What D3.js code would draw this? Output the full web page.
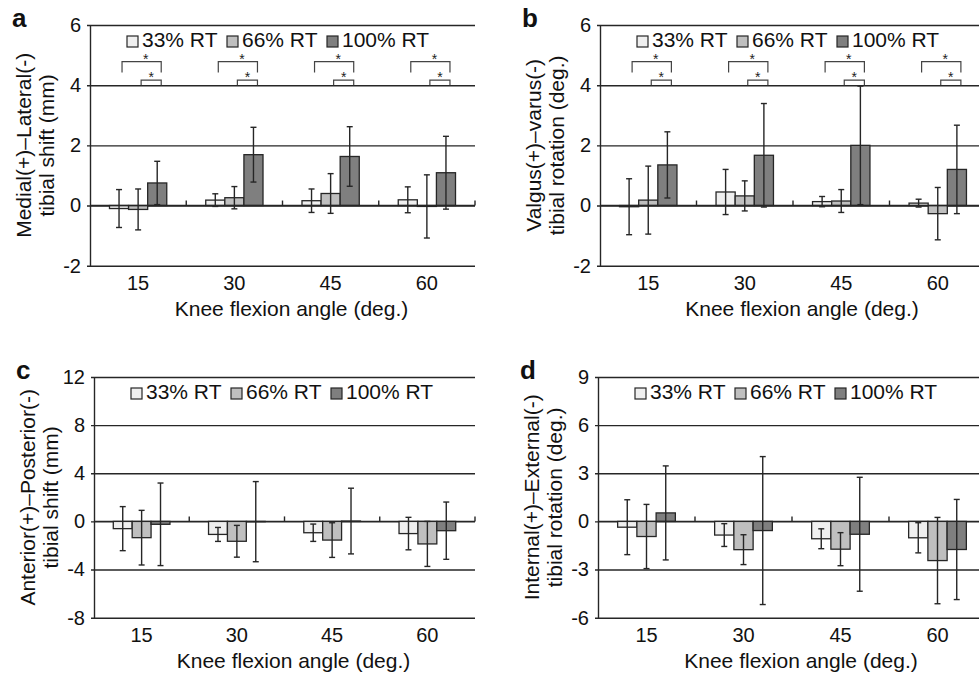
<!DOCTYPE html>
<html>
<head>
<meta charset="utf-8">
<script src="https://cdn.jsdelivr.net/npm/d3@7"></script>
<style>
  body { margin: 0; background: #fff; }
  svg { display: block; font-family: 'Liberation Sans', Arial, sans-serif; }
</style>
</head>
<body>
<div id="chart"></div>
<script>
// knee flexion angles and loading conditions
const angles = ['15', '30', '45', '60'];
const loads = ['33% RT', '66% RT', '100% RT'];

// a: medial(+)/lateral(-) tibial shift, mm  (rows = loads, cols = angles)
const mlMean = [[-0.1, 0.18, 0.16, 0.19], [-0.13, 0.26, 0.4, -0.03], [0.75, 1.69, 1.63, 1.09]];
const mlSd = [[0.63, 0.21, 0.39, 0.43], [0.68, 0.37, 0.66, 1.05], [0.72, 0.91, 0.99, 1.21]];

// b: valgus(+)/varus(-) tibial rotation, deg.
const vvMean = [[-0.04, 0.45, 0.13, 0.08], [0.18, 0.32, 0.15, -0.27], [1.35, 1.67, 2.0, 1.2]];
const vvSd = [[0.93, 0.75, 0.17, 0.13], [1.13, 0.5, 0.38, 0.87], [1.1, 1.72, 1.97, 1.47]];

// c: anterior(+)/posterior(-) tibial shift, mm
const apMean = [[-0.6, -1.08, -0.94, -1.01], [-1.35, -1.65, -1.55, -1.87], [-0.24, -0.02, 0.03, -0.77]];
const apSd = [[1.83, 0.58, 0.72, 1.35], [2.27, 1.32, 1.44, 1.87], [3.43, 3.33, 2.73, 2.38]];

// d: internal(+)/external(-) tibial rotation, deg.
const ieMean = [[-0.36, -0.85, -1.08, -1.02], [-0.94, -1.76, -1.73, -2.44], [0.53, -0.57, -0.8, -1.75]];
const ieSd = [[1.71, 0.71, 0.62, 0.94], [2.0, 0.93, 1.03, 2.69], [2.93, 4.61, 3.55, 3.12]];

// y tick labels per panel
const ticksAB = [-2, 0, 2, 4, 6];
const ticksC = [-8, -4, 0, 4, 8, 12];
const ticksD = [-6, -3, 0, 3, 6, 9];

// significant pairs (load index) shown at every angle in a and b
const sigPairs = [[0, 2], [1, 2]];

const fills = ['#efefef', '#bfbfbf', '#7f7f7f'];
const ink = '#262626';

const panels = [
  { tag: 'a', left: 90, top: 25, width: 385, mean: mlMean, sd: mlSd, ticks: ticksAB, sig: true,
    title: ['Medial(+)\u2013Lateral(-)', 'tibial shift (mm)'] },
  { tag: 'b', left: 600, top: 25, width: 386, mean: vvMean, sd: vvSd, ticks: ticksAB, sig: true,
    title: ['Valgus(+)\u2013varus(-)', 'tibial rotation (deg.)'] },
  { tag: 'c', left: 94, top: 377, width: 381, mean: apMean, sd: apSd, ticks: ticksC, sig: false,
    title: ['Anterior(+)\u2013Posterior(-)', 'tibial shift (mm)'] },
  { tag: 'd', left: 598, top: 377, width: 388, mean: ieMean, sd: ieSd, ticks: ticksD, sig: false,
    title: ['Internal(+)\u2013External(-)', 'tibial rotation (deg.)'] },
];
const plotH = 240.7;

const svg = d3.select('#chart').append('svg')
  .attr('width', 979)
  .attr('height', 678);

panels.forEach((p) => {
  const g = svg.append('g').attr('transform', `translate(${p.left},${p.top})`);
  const w = p.width;

  const y = d3.scaleLinear()
    .domain(d3.extent(p.ticks))
    .range([plotH, 0]);

  const x = d3.scaleBand().domain(angles).range([0, w]);
  const groupW = x.bandwidth() * 0.595;
  const xs = d3.scaleBand().domain(d3.range(loads.length)).range([0, groupW]);
  const barX = (ai, li) => x(angles[ai]) + (x.bandwidth() - groupW) / 2 + xs(li);

  // y axis with full-width gridlines
  g.append('g')
    .call(d3.axisLeft(y).tickValues(p.ticks).tickSize(-w).tickSizeOuter(0).tickPadding(9)
      .tickFormat((d) => String(d)))
    .call((a) => a.select('.domain').attr('stroke', ink).attr('stroke-width', 1.4))
    .call((a) => a.selectAll('.tick line').attr('x1', -3).attr('stroke', ink).attr('stroke-width', 1.4))
    .call((a) => a.selectAll('.tick text').attr('font-size', 20).attr('fill', '#111')
      .attr('font-family', "'Liberation Sans', Arial, sans-serif"));

  // bars
  const cells = [];
  p.mean.forEach((row, li) => row.forEach((v, ai) => cells.push({ li, ai, v, sd: p.sd[li][ai] })));

  g.selectAll('rect.bar')
    .data(cells)
    .join('rect')
    .attr('class', 'bar')
    .attr('x', (d) => barX(d.ai, d.li))
    .attr('width', xs.bandwidth())
    .attr('y', (d) => y(Math.max(0, d.v)))
    .attr('height', (d) => Math.abs(y(d.v) - y(0)))
    .attr('fill', (d) => fills[d.li])
    .attr('stroke', ink)
    .attr('stroke-width', 1.3);

  // error bars (mean +/- SD)
  const eb = g.selectAll('g.err').data(cells).join('g').attr('class', 'err')
    .attr('stroke', ink).attr('stroke-width', 1.4);
  const cx = (d) => barX(d.ai, d.li) + xs.bandwidth() / 2;
  eb.append('line')
    .attr('x1', cx).attr('x2', cx)
    .attr('y1', (d) => y(d.v + d.sd)).attr('y2', (d) => y(d.v - d.sd));
  [1, -1].forEach((s) => {
    eb.append('line')
      .attr('x1', (d) => cx(d) - 3).attr('x2', (d) => cx(d) + 3)
      .attr('y1', (d) => y(d.v + s * d.sd)).attr('y2', (d) => y(d.v + s * d.sd));
  });

  // zero line with category separators
  g.append('line')
    .attr('x1', 0).attr('x2', w)
    .attr('y1', y(0)).attr('y2', y(0))
    .attr('stroke', ink).attr('stroke-width', 1.4);
  g.selectAll('line.sep')
    .data(angles)
    .join('line')
    .attr('class', 'sep')
    .attr('x1', (d) => x(d) + x.step()).attr('x2', (d) => x(d) + x.step())
    .attr('y1', y(0)).attr('y2', y(0) - 5)
    .attr('stroke', ink).attr('stroke-width', 1.4);

  // category labels
  g.append('g')
    .attr('transform', `translate(0,${plotH})`)
    .call(d3.axisBottom(x).tickSize(0).tickPadding(10))
    .call((a) => a.select('.domain').remove())
    .call((a) => a.selectAll('.tick text').attr('font-size', 20).attr('fill', '#111')
      .attr('font-family', "'Liberation Sans', Arial, sans-serif"));

  // x title
  g.append('text')
    .attr('x', w / 2 + 9)
    .attr('y', plotH + 50)
    .attr('text-anchor', 'middle')
    .attr('font-size', 21)
    .attr('fill', '#111')
    .text('Knee flexion angle (deg.)');

  // y title (two lines)
  p.title.forEach((t, i) => {
    g.append('text')
      .attr('transform', `translate(${i === 0 ? -59 : -36},${plotH / 2}) rotate(-90)`)
      .attr('text-anchor', 'middle')
      .attr('font-size', 21)
      .attr('fill', '#111')
      .text(t);
  });

  // panel tag
  g.append('text')
    .attr('x', -78)
    .attr('y', 2)
    .attr('font-size', 26)
    .attr('font-weight', 'bold')
    .attr('fill', '#111')
    .text(p.tag);

  // legend
  const lg = g.append('g').attr('transform', `translate(37,11)`);
  loads.forEach((name, i) => {
    const it = lg.append('g').attr('transform', `translate(${i * 100},0)`);
    it.append('rect')
      .attr('width', 11).attr('height', 11)
      .attr('fill', fills[i]).attr('stroke', ink).attr('stroke-width', 1.2);
    it.append('text')
      .attr('x', 15).attr('y', 11)
      .attr('font-size', 21)
      .attr('fill', '#111')
      .text(name);
  });

  // significance brackets
  if (p.sig) {
    const levels = [{ top: 4.78, leg: 4.42, dx: 4, dy: 2.6 }, { top: 4.17, leg: 4.0, dx: 0, dy: 1.9 }];
    angles.forEach((a, ai) => {
      sigPairs.forEach(([l1, l2], k) => {
        const lv = levels[k];
        const x1 = barX(ai, l1) + xs.bandwidth() / 2 + 3;
        const x2 = barX(ai, l2) + xs.bandwidth() / 2 + 4;
        g.append('path')
          .attr('d', `M${x1},${y(lv.leg)}V${y(lv.top)}H${x2}V${y(lv.leg)}`)
          .attr('fill', 'none')
          .attr('stroke', '#444')
          .attr('stroke-width', 1.2);
        g.append('text')
          .attr('x', (x1 + x2) / 2 + lv.dx)
          .attr('y', y(lv.top) + lv.dy)
          .attr('text-anchor', 'middle')
          .attr('font-size', 14)
          .attr('fill', '#222')
          .text('*');
      });
    });
  }
});
</script>
</body>
</html>
